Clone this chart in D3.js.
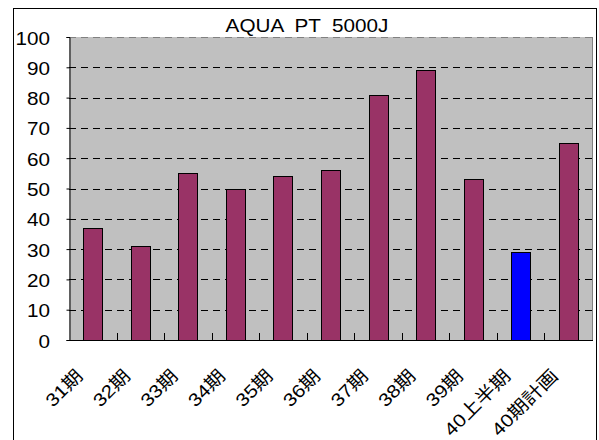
<!DOCTYPE html>
<html>
<head>
<meta charset="utf-8">
<script src="https://cdn.jsdelivr.net/npm/d3@7"></script>
<style>
  body { margin: 0; background: #fff; }
  svg text { font-family: Arial, "Liberation Sans", "Noto Sans CJK JP", sans-serif; fill: #000; }
</style>
</head>
<body>
<svg id="chart" width="599" height="440"></svg>
<script>
var title = "AQUA  PT  5000J";
var categories = ["31期", "32期", "33期", "34期", "35期", "36期", "37期", "38期", "39期", "40上半期", "40期計画"];
var values = [37, 31, 55, 50, 54, 56, 81, 89, 53, 29, 65];
var highlight = ["40上半期"];
var yTicks = [0, 10, 20, 30, 40, 50, 60, 70, 80, 90, 100];

var W = 599, H = 440;
var plot = {left: 69, right: 592, top: 37, bottom: 340};
var stretch = 1.15; // old excel text is a bit wide

var svg = d3.select("#chart");

// outer frame
svg.append("rect")
    .attr("x", 13.5).attr("y", 8.5)
    .attr("width", 583).attr("height", 440)
    .attr("fill", "none").attr("stroke", "#000");

var x = d3.scaleBand()
    .domain(categories)
    .range([plot.left, plot.right])
    .paddingInner(0.6)
    .paddingOuter(0.3);

var y = d3.scaleLinear()
    .domain([0, 100])
    .range([plot.bottom, plot.top]);

svg.append("rect")
    .attr("x", plot.left).attr("y", plot.top)
    .attr("width", plot.right - plot.left)
    .attr("height", plot.bottom - plot.top)
    .attr("fill", "#c0c0c0");

// gridlines
svg.append("g").selectAll("line")
    .data(yTicks.filter(function (d) { return d > 0 && d < 100; }))
    .enter().append("line")
    .attr("x1", plot.left).attr("x2", plot.right)
    .attr("y1", function (d) { return Math.round(y(d)) + 0.5; })
    .attr("y2", function (d) { return Math.round(y(d)) + 0.5; })
    .attr("stroke", "#000")
    .attr("stroke-dasharray", "7,5");

// top and right edge of plot area
svg.append("line")
    .attr("x1", plot.left).attr("x2", plot.right)
    .attr("y1", plot.top + 0.5).attr("y2", plot.top + 0.5)
    .attr("stroke", "#808080").attr("stroke-dasharray", "7,5");
svg.append("line")
    .attr("x1", plot.right + 0.5).attr("x2", plot.right + 0.5)
    .attr("y1", plot.top).attr("y2", plot.bottom)
    .attr("stroke", "#808080");

// bars
svg.append("g").selectAll("rect")
    .data(categories)
    .enter().append("rect")
    .attr("x", function (d) { return Math.round(x(d)) + 0.5; })
    .attr("y", function (d, i) { return Math.round(y(values[i])) + 0.5; })
    .attr("width", Math.round(x.bandwidth()))
    .attr("height", function (d, i) { return Math.round(y(0)) - Math.round(y(values[i])); })
    .attr("fill", function (d) { return highlight.indexOf(d) >= 0 ? "#0000ff" : "#993366"; })
    .attr("stroke", "#000");

// y axis
var yAxis = d3.axisLeft(y)
    .tickValues(yTicks)
    .tickSize(3)
    .tickPadding(0)
    .tickFormat("");
svg.append("g")
    .attr("transform", "translate(" + (plot.left + 0.5) + ",0)")
    .call(yAxis)
    .call(function (g) { g.selectAll("line, path").attr("stroke", "#000"); });

svg.append("g").selectAll("text")
    .data(yTicks)
    .enter().append("text")
    .attr("transform", function (d) {
        return "translate(50," + (y(d) + 7.5) + ") scale(" + stretch + ",1)";
    })
    .attr("text-anchor", "end")
    .attr("font-size", 18)
    .text(function (d) { return d; });

// x axis: ticks between categories, pointing inward
var step = x.step();
var bounds = d3.range(1, categories.length).map(function (i) { return plot.left + i * step; });
svg.append("line")
    .attr("x1", plot.left).attr("x2", plot.right + 1)
    .attr("y1", plot.bottom + 0.5).attr("y2", plot.bottom + 0.5)
    .attr("stroke", "#000");
svg.append("g").selectAll("line")
    .data(bounds)
    .enter().append("line")
    .attr("x1", function (d) { return Math.round(d) + 0.5; })
    .attr("x2", function (d) { return Math.round(d) + 0.5; })
    .attr("y1", plot.bottom).attr("y2", plot.bottom - 7)
    .attr("stroke", "#000");

// rotated category labels: outer g rotates, inner text widens
var xl = svg.append("g").selectAll("g")
    .data(categories)
    .enter().append("g")
    .attr("transform", function (d) {
        var cx = x(d) + x.bandwidth() / 2;
        return "translate(" + (cx - 9) + ",377) rotate(-45)";
    });
xl.append("text")
    .attr("transform", "scale(" + stretch + ",1)")
    .attr("text-anchor", "end")
    .attr("font-size", 18)
    .text(function (d) { return d; });

// title
svg.append("text")
    .attr("transform", "translate(307,32) scale(" + stretch + ",1)")
    .attr("text-anchor", "middle")
    .attr("font-size", 18)
    .style("white-space", "pre")
    .text(title);
</script>
</body>
</html>
